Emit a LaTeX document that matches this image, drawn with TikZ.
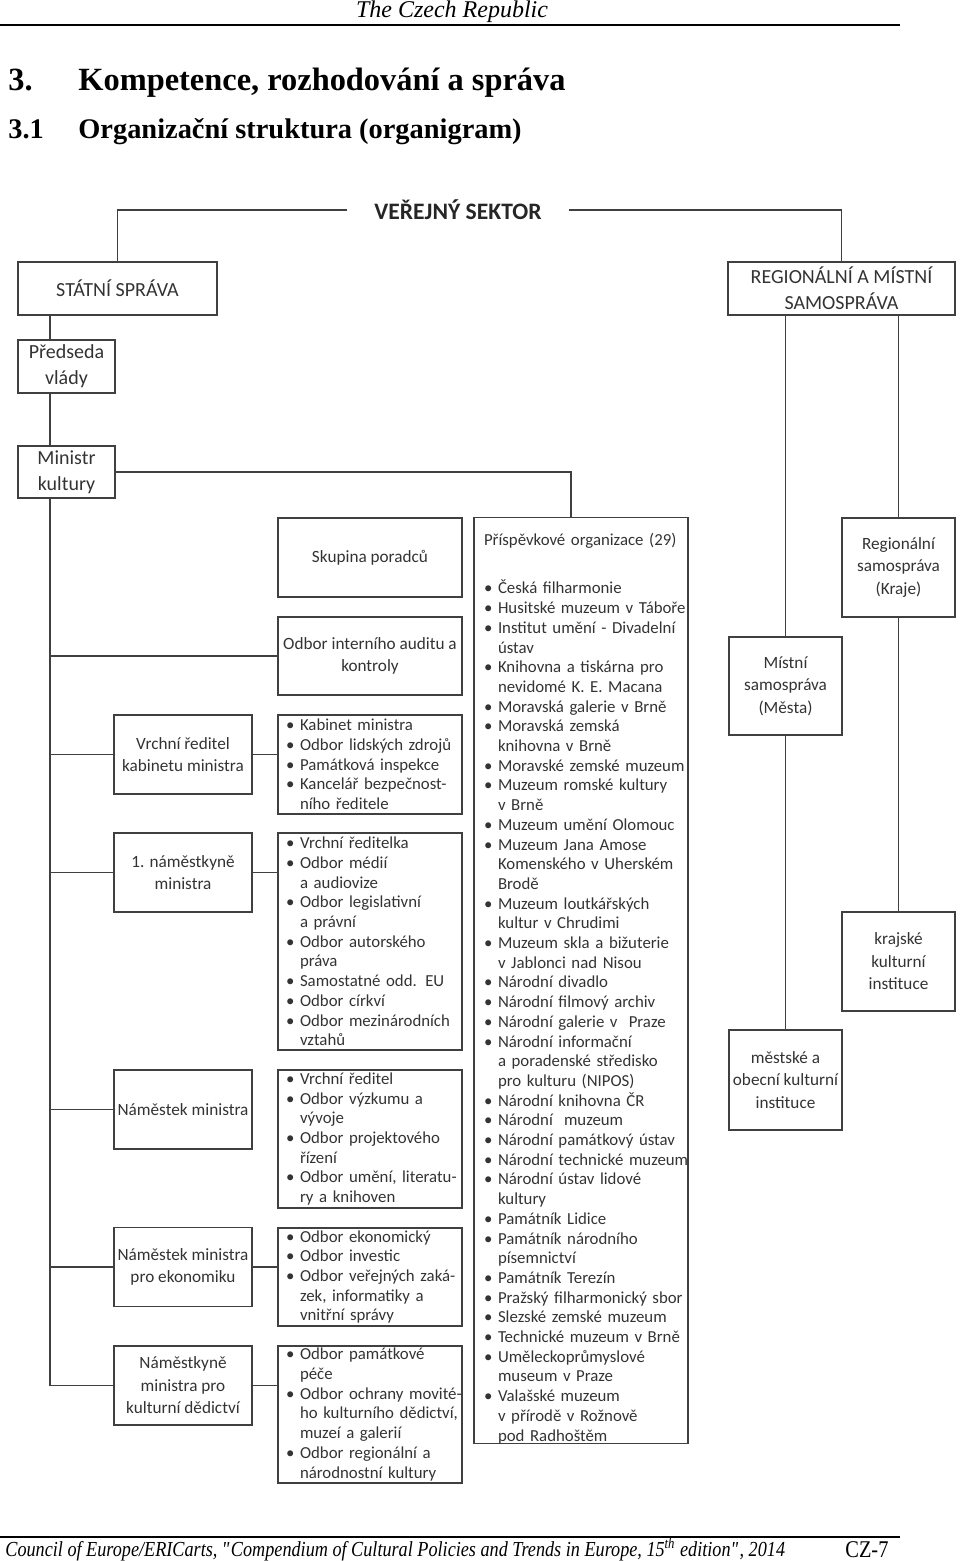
\documentclass[tikz,border=0pt]{standalone}
\usepackage{fontspec}
\setmainfont{Liberation Serif}
\newfontfamily\calib{Carlito}
\newfontfamily\condser[FakeStretch=0.85]{Liberation Serif}
\usetikzlibrary{positioning}
\newcommand{\li}[1]{\mbox{\makebox[7pt][l]{\textbullet}#1}}
\newcommand{\lc}[1]{\mbox{\hspace*{7pt}#1}}

\begin{document}
\begin{tikzpicture}[x=0.5pt, y=-0.5pt,
    box/.style={draw=black!75, line width=0.7pt, inner sep=0pt, align=center, text=black!80, font=\calib\fontsize{8.6}{11.25}\selectfont},
    bigbox/.style={box, font=\calib\fontsize{10}{13}\selectfont},
    lst/.style={box, align=left, inner xsep=4pt, text width=84pt, font=\calib\fontsize{8.4}{9.85}\selectfont},
    leftbox/.style={box, minimum width=69pt, minimum height=39.5pt},
    midbox/.style={box, minimum width=92pt},
    rightbox/.style={box, minimum width=56.5pt, minimum height=49.5pt},
    conn/.style={draw=black!75, line width=0.7pt}]
    \useasboundingbox (0,0) rectangle (960,1561);

    \node[font=\itshape\fontsize{12}{14}\selectfont, inner sep=0pt, anchor=base] (hdr) at (452,18) {The Czech Republic};
    \draw[line width=0.75pt] (0,25) -- (900,25);
    \node[font=\bfseries\fontsize{16.2}{19}\selectfont, inner sep=0pt, anchor=base west] (tit) at (8,91) {\makebox[35pt][l]{3.}Kompetence, rozhodování a správa};
    \node[font=\bfseries\fontsize{14.2}{17}\selectfont, inner sep=0pt, anchor=base west] (sub) at (8,139) {\makebox[35pt][l]{3.1}Organizační struktura (organigram)};

    \node[font=\calib\bfseries\fontsize{11.8}{14}\selectfont, text=black!85, inner xsep=13.5pt] (vs) at (458,210) {VEŘEJNÝ SEKTOR};
    \node[bigbox, minimum width=99.5pt, minimum height=26.5pt] (ss) at (117.5,288.5) {STÁTNÍ SPRÁVA};
    \node[bigbox, minimum width=113.5pt, minimum height=26.5pt] (reg) at (841.5,288.5) {REGIONÁLNÍ A MÍSTNÍ\\SAMOSPRÁVA};
    \node[bigbox, minimum width=48.5pt, minimum height=26.5pt] (pv) at (66.5,366.5) {Předseda\\vlády};
    \node[bigbox, minimum width=48.5pt, minimum height=26pt] (mk) at (66.5,472) {Ministr\\kultury};

    \node[midbox, minimum height=39.5pt] (sp) at (370,557.5) {Skupina poradců};
    \node[midbox, minimum height=39pt] (aud) at (370,656) {Odbor interního auditu a\\kontroly};
    \node[leftbox] (vrk) at (183,754.5) {Vrchní ředitel\\kabinetu ministra};
    \node[leftbox] (nam1) at (183,872.5) {1. náměstkyně\\ministra};
    \node[leftbox] (nm) at (183,1109.5) {Náměstek ministra};
    \node[leftbox] (nme) at (183,1267) {Náměstek ministra\\pro ekonomiku};
    \node[leftbox] (ned) at (183,1385.5) {Náměstkyně\\ministra pro\\kulturní dědictví};

    \node[lst, minimum width=92pt, minimum height=49.5pt] (kab) at (370,764.5) {\li{Kabinet ministra}\\\li{Odbor lidských zdrojů}\\\li{Památková inspekce}\\\li{Kancelář bezpečnost-}\\\lc{ního ředitele}};
    \node[lst, minimum width=92pt, minimum height=108.5pt] (lb2) at (370,941.5) {\li{Vrchní ředitelka}\\\li{Odbor médií}\\\lc{a audiovize}\\\li{Odbor legislativní}\\\lc{a právní}\\\li{Odbor autorského}\\\lc{práva}\\\li{Samostatné odd. EU}\\\li{Odbor církví}\\\li{Odbor mezinárodních}\\\lc{vztahů}};
    \node[lst, minimum width=92pt, minimum height=69pt] (lb3) at (370,1139) {\li{Vrchní ředitel}\\\li{Odbor výzkumu a}\\\lc{vývoje}\\\li{Odbor projektového}\\\lc{řízení}\\\li{Odbor umění, literatu-}\\\lc{ry a knihoven}};
    \node[lst, minimum width=92pt, minimum height=49pt] (lb4) at (370,1277) {\li{Odbor ekonomický}\\\li{Odbor investic}\\\li{Odbor veřejných zaká-}\\\lc{zek, informatiky a}\\\lc{vnitřní správy}};
    \node[lst, minimum width=92pt, minimum height=68.5pt] (lb5) at (370,1414.5) {\li{Odbor památkové}\\\lc{péče}\\\li{Odbor ochrany movité-}\\\lc{ho kulturního dědictví,}\\\lc{muzeí a galerií}\\\li{Odbor regionální a}\\\lc{národnostní kultury}};

    \node[lst, inner xsep=5pt, text width=97pt, minimum width=107pt, minimum height=462.5pt] (pp) at (581,980.5) {\rule{0pt}{14.3pt}Příspěvkové organizace (29)\\[14.2pt]
        \li{Česká filharmonie}\\\li{Husitské muzeum v Táboře}\\\li{Institut umění - Divadelní}\\\lc{ústav}\\
        \li{Knihovna a tiskárna pro}\\\lc{nevidomé K. E. Macana}\\\li{Moravská galerie v Brně}\\
        \li{Moravská zemská}\\\lc{knihovna v Brně}\\\li{Moravské zemské muzeum}\\
        \li{Muzeum romské kultury}\\\lc{v Brně}\\\li{Muzeum umění Olomouc}\\
        \li{Muzeum Jana Amose}\\\lc{Komenského v Uherském}\\\lc{Brodě}\\
        \li{Muzeum loutkářských}\\\lc{kultur v Chrudimi}\\\li{Muzeum skla a bižuterie}\\\lc{v Jablonci nad Nisou}\\
        \li{Národní divadlo}\\\li{Národní filmový archiv}\\\li{Národní galerie v\ \ Praze}\\
        \li{Národní informační}\\\lc{a poradenské středisko}\\\lc{pro kulturu (NIPOS)}\\
        \li{Národní knihovna ČR}\\\li{Národní\ \ muzeum}\\\li{Národní památkový ústav}\\
        \li{Národní technické muzeum}\\\li{Národní ústav lidové}\\\lc{kultury}\\
        \li{Památník Lidice}\\\li{Památník národního}\\\lc{písemnictví}\\\li{Památník Terezín}\\
        \li{Pražský filharmonický sbor}\\\li{Slezské zemské muzeum}\\\li{Technické muzeum v Brně}\\
        \li{Uměleckoprůmyslové}\\\lc{museum v Praze}\\
        \li{Valašské muzeum}\\\lc{v přírodě v Rožnově}\\\lc{pod Radhoštěm}};

    \node[rightbox] (regs) at (898.5,567.5) {Regionální\\samospráva\\(Kraje)};
    \node[rightbox, minimum height=49pt] (mist) at (785.5,686) {Místní\\samospráva\\(Města)};
    \node[rightbox] (kraj) at (898.5,961.5) {krajské\\kulturní\\instituce};
    \node[rightbox, minimum height=50pt] (mest) at (785.5,1080) {městské a\\obecní kulturní\\instituce};

    \coordinate (spine) at (50,0);
    \draw[conn] (vs.west) -| (ss.north);
    \draw[conn] (vs.east) -| (reg.north);
    \draw[conn] (ss.south -| spine) -- (pv.north -| spine);
    \draw[conn] (pv.south -| spine) -- (mk.north -| spine);
    \draw[conn] (mk.south -| spine) |- (ned.west);
    \foreach \n in {aud, vrk, nam1, nm, nme}
        \draw[conn] (spine |- \n.west) -- (\n.west);
    \draw[conn] (vrk.east) -- (vrk.east -| kab.west);
    \draw[conn] (nam1.east) -- (nam1.east -| lb2.west);
    \draw[conn] (nme.east) -- (nme.east -| lb4.west);
    \draw[conn] (ned.east) -- (ned.east -| lb5.west);
    \draw[conn] (mk.east) -| ([xshift=-5pt]pp.north);
    \draw[conn] (reg.south -| mist.north) -- (mist.north);
    \draw[conn] (reg.south -| regs.north) -- (regs.north);
    \draw[conn] (mist.south) -- (mest.north);
    \draw[conn] (regs.south) -- (kraj.north);

    \draw[line width=0.75pt] (0,1537) -- (900,1537);
    \node[font=\condser\itshape\fontsize{10.7}{12}\selectfont, inner sep=0pt, anchor=base west] (ftr) at (5,1556) {Council of Europe/ERICarts, \textquotedbl Compendium of Cultural Policies and Trends in Europe, 15\textsuperscript{th} edition\textquotedbl, 2014};
    \node[font=\condser\fontsize{12}{14}\selectfont, inner sep=0pt, anchor=base west] (pg) at (845,1557) {CZ-7};
\end{tikzpicture}
\end{document}
